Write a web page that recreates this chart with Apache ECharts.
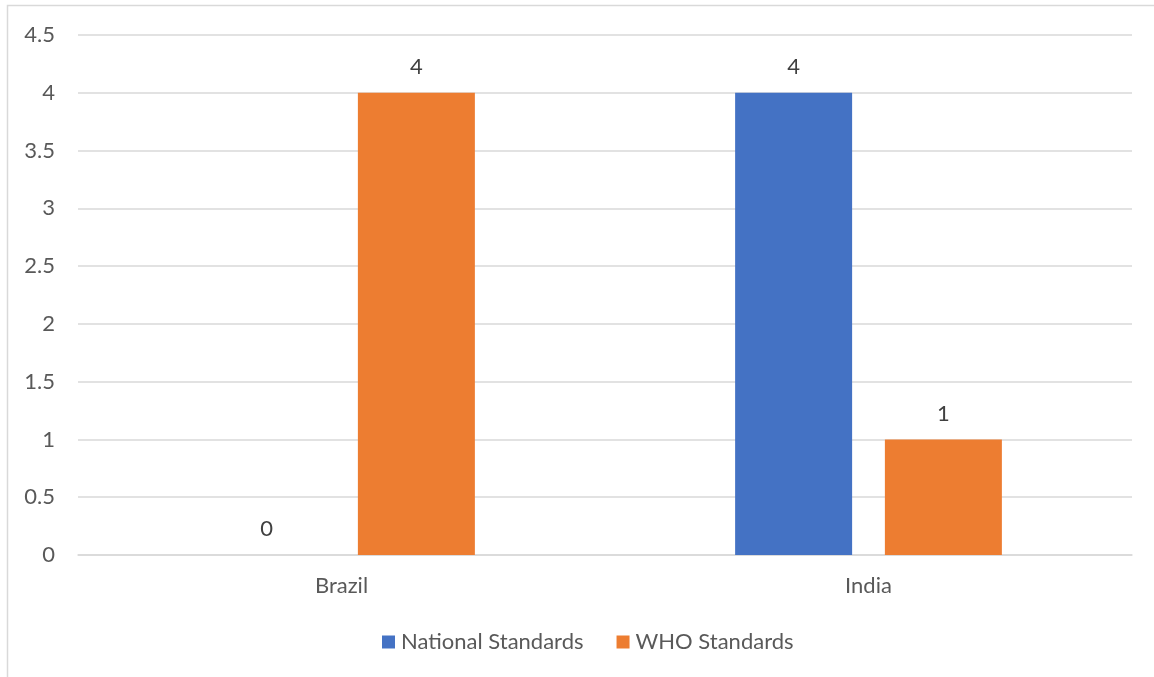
<!DOCTYPE html>
<html><head><meta charset="utf-8">
<script src="https://cdn.jsdelivr.net/npm/echarts@6/dist/echarts.min.js"></script>
<style>html,body{margin:0;padding:0;background:#fff}#c{width:1154px;height:677px}</style>
</head><body><div id="c"></div>
<script>
const categories = ['Brazil', 'India'];
const nationalStandards = [0, 4];
const whoStandards = [4, 1];
const seriesNames = ['National Standards', 'WHO Standards'];

const chart = echarts.init(document.getElementById('c'));
const font = 'Lato, "Open Sans", sans-serif';
const labelStyle = {show: true, position: 'top', distance: 15, color: '#404040', fontSize: 22, fontFamily: font};
chart.setOption({
  animation: false,
  graphic: [{type: 'rect', shape: {x: 7.5, y: 5.5, width: 1160, height: 690}, style: {fill: 'none', stroke: '#D9D9D9', lineWidth: 1.5}}],
  grid: {left: 78, right: 22, top: 35, bottom: 122},
  legend: {
    top: 626, left: 377, itemWidth: 13, itemHeight: 13, itemGap: 33,
    icon: 'rect',
    textStyle: {color: '#595959', fontSize: 22, fontFamily: font, padding: [0, 0, 0, 1]},
    data: seriesNames
  },
  xAxis: {
    type: 'category', data: categories,
    axisLine: {lineStyle: {color: '#D9D9D9', width: 1.5}},
    axisTick: {show: false},
    axisLabel: {color: '#595959', fontSize: 22, fontFamily: font, margin: 20}
  },
  yAxis: {
    type: 'value', min: 0, max: 4.5, interval: 0.5,
    axisLine: {show: false}, axisTick: {show: false},
    splitLine: {lineStyle: {color: '#D9D9D9', width: 1.5}},
    axisLabel: {color: '#595959', fontSize: 22, fontFamily: font, margin: 23}
  },
  series: [
    {name: seriesNames[0], type: 'bar', data: nationalStandards, barWidth: 117, barGap: '28%', itemStyle: {color: '#4472C4'}, label: labelStyle},
    {name: seriesNames[1], type: 'bar', data: whoStandards, barWidth: 117, itemStyle: {color: '#ED7D31'}, label: labelStyle}
  ]
});
</script></body></html>
